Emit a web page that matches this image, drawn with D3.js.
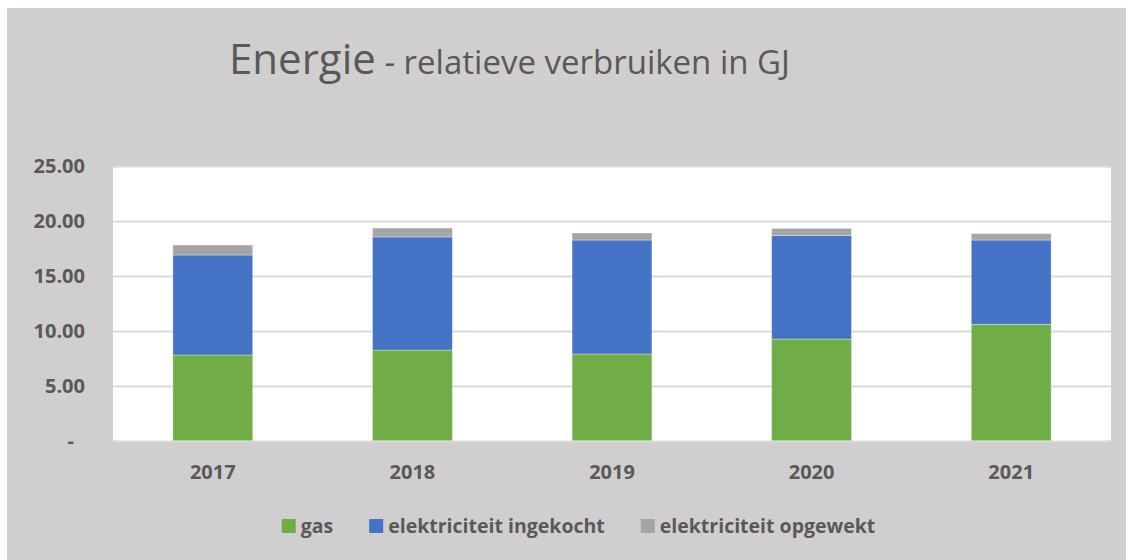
<!DOCTYPE html>
<html>
<head>
<meta charset="utf-8">
<script src="https://cdn.jsdelivr.net/npm/d3@7"></script>
<style>
  html, body { margin: 0; padding: 0; background: #ffffff; }
  svg { display: block; }
  text { font-family: "Open Sans", "Noto Sans", sans-serif; fill: #595959; }
</style>
</head>
<body>
<svg id="chart" width="1126" height="560"></svg>
<script>
const years = ["2017", "2018", "2019", "2020", "2021"];
const gas = [7.82, 8.27, 7.91, 9.27, 10.61];
const ingekocht = [9.09, 10.28, 10.36, 9.40, 7.66];
const opgewekt = [0.91, 0.81, 0.64, 0.66, 0.58];
const seriesNames = ["gas", "elektriciteit ingekocht", "elektriciteit opgewekt"];
const seriesColors = ["#70AD47", "#4472C4", "#A5A5A5"];
const yTicks = [0, 5, 10, 15, 20, 25];
const titleMain = "Energie";
const titleSub = " - relatieve verbruiken in GJ";

const W = 1126, H = 560;
const svg = d3.select("#chart");

// chart background
svg.append("rect").attr("x", 7).attr("y", 8).attr("width", W - 7).attr("height", H - 8)
  .attr("fill", "#D0CECF");

const plot = { left: 113, right: 1111, top: 166, bottom: 441 };

svg.append("rect").attr("x", plot.left).attr("y", plot.top)
  .attr("width", plot.right - plot.left).attr("height", plot.bottom - plot.top)
  .attr("fill", "#ffffff");

const x = d3.scaleBand().domain(years).range([plot.left, plot.right])
  .paddingInner(0.6).paddingOuter(0.3);
const y = d3.scaleLinear().domain([0, 25]).range([plot.bottom, plot.top]);

// gridlines
svg.append("g").attr("transform", `translate(${plot.left},0)`)
  .call(d3.axisLeft(y).tickValues(yTicks.filter(d => d > 0)).tickSize(-(plot.right - plot.left)).tickFormat(""))
  .call(g => g.select(".domain").remove())
  .call(g => g.selectAll("line").attr("stroke", "#D9D9D9").attr("stroke-width", 2));

// stacked data
const table = years.map((yr, i) => ({ year: yr, gas: gas[i], ingekocht: ingekocht[i], opgewekt: opgewekt[i] }));
const stack = d3.stack().keys(["gas", "ingekocht", "opgewekt"]);
const layers = stack(table);

svg.append("g").selectAll("g").data(layers).join("g")
  .attr("fill", (d, i) => seriesColors[i])
  .selectAll("rect").data(d => d).join("rect")
  .attr("x", d => x(d.data.year))
  .attr("width", x.bandwidth())
  .attr("y", d => y(d[1]))
  .attr("height", d => y(d[0]) - y(d[1]))
  .attr("stroke", "#ffffff").attr("stroke-opacity", 0.45).attr("stroke-width", 0.75);

// x axis line
svg.append("line").attr("x1", plot.left).attr("x2", plot.right)
  .attr("y1", plot.bottom + 0.5).attr("y2", plot.bottom + 0.5)
  .attr("stroke", "#D9D9D9").attr("stroke-width", 2);

// y axis labels
const yAxis = svg.append("g").attr("transform", `translate(${plot.left},0)`)
  .call(d3.axisLeft(y).tickValues(yTicks).tickSize(0).tickPadding(28)
    .tickFormat(d => d === 0 ? "-" : d3.format(".2f")(d)));
yAxis.select(".domain").remove();
yAxis.selectAll("text")
  .style("font-family", '"Open Sans", sans-serif')
  .style("font-size", "20px").style("font-weight", "700").attr("fill", "#595959")
  .attr("dx", d => d === 0 ? -11 : 0);

// x axis labels
const xAxis = svg.append("g").attr("transform", `translate(0,${plot.bottom})`)
  .call(d3.axisBottom(x).tickSize(0).tickPadding(24));
xAxis.select(".domain").remove();
xAxis.selectAll("text")
  .style("font-family", '"Open Sans", sans-serif')
  .style("font-size", "20px").style("font-weight", "700").attr("fill", "#595959");

// title
const title = svg.append("text").attr("x", 229).attr("y", 74);
title.append("tspan").text(titleMain).style("font-size", "42px");
title.append("tspan").text(titleSub).style("font-size", "33px");

// legend
const legend = svg.append("g");
const items = legend.selectAll("g").data(seriesNames).join("g");
items.append("rect").attr("width", 14).attr("height", 14).attr("y", -7)
  .attr("fill", (d, i) => seriesColors[i]);
items.append("text").attr("x", 19).attr("dy", "0.35em")
  .style("font-size", "19.5px").style("font-weight", "700").text(d => d);
let cx = 0;
const offs = [];
items.each(function () {
  const w = 19 + this.querySelector("text").getComputedTextLength();
  offs.push(cx);
  cx += w + 36;
});
const totalW = cx - 36;
const lx0 = 578.5 - totalW / 2;
items.attr("transform", (d, i) => `translate(${lx0 + offs[i]},526)`);
</script>
</body>
</html>
